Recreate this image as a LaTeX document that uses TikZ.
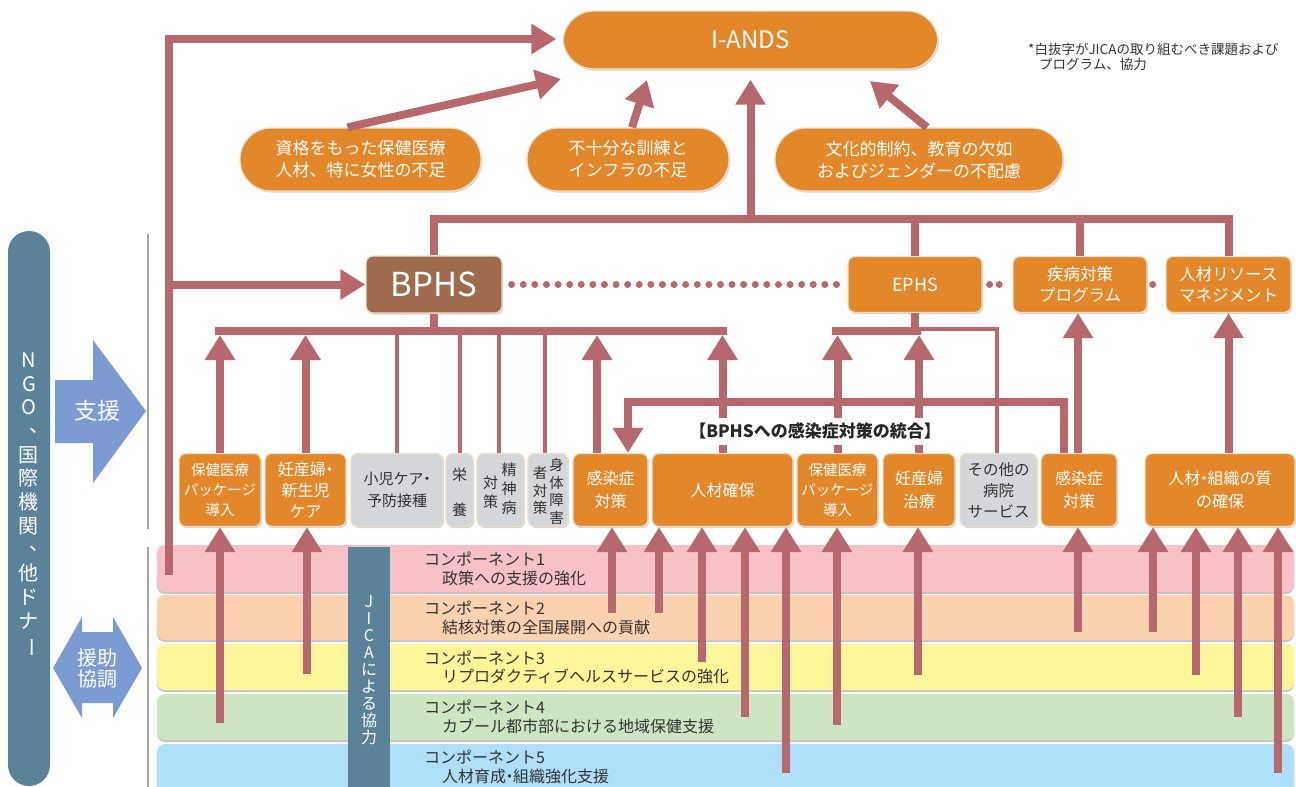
\documentclass[tikz,border=0pt]{standalone}
\usepackage{fontspec}
\usepackage{graphicx}
\setmainfont{Noto Sans CJK JP}
\usetikzlibrary{arrows.meta,calc,shadows}
\definecolor{org}{HTML}{E2882A}
\definecolor{brn}{HTML}{A06B4C}
\definecolor{con}{HTML}{B7686E}
\definecolor{gry}{HTML}{D4D6D9}
\definecolor{stb}{HTML}{5A8399}
\definecolor{lbl}{HTML}{7B9BD2}
\definecolor{txt}{HTML}{333333}
\definecolor{bd}{HTML}{EADFCB}
\definecolor{bpink}{HTML}{F8C0C7}
\definecolor{bpeach}{HTML}{FBD1AE}
\definecolor{byel}{HTML}{FFF59A}
\definecolor{bgrn}{HTML}{CEE5C3}
\definecolor{bblu}{HTML}{AEDFF8}
\newcommand{\nd}{\kern-0.28em・\kern-0.28em}
\newcommand{\vcomma}{\makebox[1em][l]{\hspace*{0.5em}\raisebox{0.3em}{、}}}
\begin{document}
\begin{tikzpicture}[x=1pt,y=-1pt,
  obox/.style={draw=bd, line width=1.3pt, rounded corners=7pt, fill=org, text=white, align=center, inner sep=0pt,
    drop shadow={shadow xshift=1.2pt, shadow yshift=-1.6pt, fill=black!50, opacity=0.35}},
  pill/.style={obox, rounded corners=31pt, minimum height=63pt, font=\fontsize{17}{22}\selectfont},
  rowbox/.style={obox, minimum height=73pt, font=\fontsize{16}{21}\selectfont},
  gbox/.style={rowbox, fill=gry, text=txt},
  topbox/.style={obox, minimum height=56pt, font=\fontsize{16.5}{21}\selectfont},
  conn/.style={draw=con, line width=8pt},
  arr/.style={conn, -{Triangle[width=29pt,length=25pt]}},
  thinc/.style={draw=con, line width=4pt},
  dotc/.style={draw=con, line width=7pt, line cap=round, dash pattern=on 0pt off 11.6pt},
  band/.style={rounded corners=8pt, drop shadow={shadow xshift=0pt, shadow yshift=-2pt, fill=black!45, opacity=0.5}},
  comp/.style={anchor=west, align=left, text=txt, font=\fontsize{16}{18.5}\selectfont, inner sep=0pt},
  vt/.style={align=center, inner sep=0pt},
]
\useasboundingbox (0,0) rectangle (1296,787);

% ---------- component bands ----------
\path[band, fill=bpink]  (157,545) rectangle (1294,592);
\path[band, fill=bpeach] (157,595) rectangle (1294,640);
\path[band, fill=byel]   (157,644) rectangle (1294,690);
\path[band, fill=bgrn]   (157,694) rectangle (1294,740);
\path[band, fill=bblu]   (157,744) rectangle (1294,800);
\node[comp] (c1) at (424,569) {コンポーネント1\\\hspace*{18pt}政策への支援の強化};
\node[comp] (c2) at (424,618) {コンポーネント2\\\hspace*{18pt}結核対策の全国展開への貢献};
\node[comp] (c3) at (424,667.5) {コンポーネント3\\\hspace*{18pt}リプロダクティブヘルスサービスの強化};
\node[comp] (c4) at (424,717) {コンポーネント4\\\hspace*{18pt}カブール都市部における地域保健支援};
\node[comp] (c5) at (424,767) {コンポーネント5\\\hspace*{18pt}人材育成\nd 組織強化支援};

% JICA bar
\fill[stb] (348,547) rectangle (390,790);
\node[vt, text=white, font=\fontsize{16}{17}\selectfont] (jica) at (369,670) {J\\I\\C\\A\\に\\よ\\る\\協\\力};

% ---------- left side ----------
\node[fill=stb, rounded corners=21pt, minimum width=42pt, minimum height=555pt, inner sep=0pt] (ngo) at (29,508.5) {};
\node[vt, text=white, font=\fontsize{20}{23.7}\selectfont] (ngot) at (29,505) {N\\G\\O\\\vcomma\\国\\際\\機\\関\\\vcomma\\他\\ド\\ナ\\\rotatebox[origin=c]{-90}{ー}};
\draw[black!35, line width=1.2pt] (148,234) -- (148,529);
\draw[black!35, line width=1.2pt] (148,547) -- (148,790);
\fill[lbl] (55,380) -- (93,380) -- (93,340) -- (146,411) -- (93,483) -- (93,443) -- (55,443) -- cycle;
\node[text=white, font=\fontsize{23}{23}\selectfont] (shien) at (97,411) {支援};
\fill[lbl] (53,668) -- (82,617) -- (82,632) -- (113,632) -- (113,617) -- (142,668) -- (113,718) -- (113,703) -- (82,703) -- (82,718) -- cycle;
\node[vt, text=white, font=\fontsize{20}{21}\selectfont] (enjo) at (97,668) {援助\\協調};

% ---------- top ----------
\node[pill, minimum width=375pt, minimum height=58pt, font=\fontsize{24}{26}\selectfont] (iands) at (750.5,40) {I-ANDS};
\node[pill, minimum width=241pt] (shikaku) at (360.5,159.5) {資格をもった保健医療\\人材、特に女性の不足};
\node[pill, minimum width=202pt] (fujubun) at (628,159.5) {不十分な訓練と\\インフラの不足};
\node[pill, minimum width=288pt] (bunka) at (919,159.5) {文化的制約、教育の欠如\\およびジェンダーの不配慮};
\node[anchor=west, align=left, text=txt, font=\fontsize{13.5}{15.5}\selectfont, inner sep=0pt] (note) at (1028,57) {*白抜字がJICAの取り組むべき課題および\\\hspace*{11pt}プログラム、協力};

% ---------- programme row ----------
\node[obox, fill=brn, minimum width=136pt, minimum height=57pt, font=\fontsize{33}{33}\selectfont] (bphs) at (434,284.5) {BPHS};
\node[topbox, minimum width=134pt, font=\fontsize{18}{21}\selectfont] (ephs) at (915,284.5) {EPHS};
\node[topbox, minimum width=134pt] (shippei) at (1080,284.5) {疾病対策\\プログラム};
\node[topbox, minimum width=125pt] (jinzai) at (1228.5,284.5) {人材リソース\\マネジメント};

% ---------- box row ----------
\node[rowbox, minimum width=82pt, font=\fontsize{14.5}{20}\selectfont] (b1) at (220,490) {保健医療\\パッケージ\\導入};
\node[rowbox, minimum width=81pt] (b2) at (305.5,490) {妊産婦\nd\\新生児\\ケア};
\node[gbox, minimum width=92pt, font=\fontsize{15}{22}\selectfont] (b3) at (397,490) {小児ケア\nd\\予防接種};
\node[gbox, minimum width=27pt] (b4) at (459.5,490) {};
\node[gbox, minimum width=47pt] (b5) at (500.5,490) {};
\node[gbox, minimum width=40pt] (b6) at (548,490) {};
\node[rowbox, minimum width=75pt, font=\fontsize{16}{23}\selectfont] (b7) at (610.5,490) {感染症\\対策};
\node[rowbox, minimum width=141pt] (b8) at (722.5,490) {人材確保};
\node[rowbox, minimum width=81pt, font=\fontsize{14.5}{20}\selectfont] (b9) at (837.5,490) {保健医療\\パッケージ\\導入};
\node[rowbox, minimum width=72pt, font=\fontsize{16}{23}\selectfont] (b10) at (919,490) {妊産婦\\治療};
\node[gbox, minimum width=77pt, font=\fontsize{15.5}{21}\selectfont] (b11) at (998.5,490) {その他の\\病院\\サービス};
\node[rowbox, minimum width=76pt, font=\fontsize{16}{23}\selectfont] (b12) at (1079,490) {感染症\\対策};
\node[rowbox, minimum width=150pt, font=\fontsize{16}{23}\selectfont] (b13) at (1220,490) {人材\nd 組織の質\\の確保};
% vertical texts in grey boxes
\node[vt, text=txt, font=\fontsize{15}{35}\selectfont] (t4) at ($(b4.center)+(0,2.5)$) {栄\\養};
\node[vt, text=txt, font=\fontsize{15}{19}\selectfont] (t5a) at ($(b5.center)+(8.5,-1)$) {精\\神\\病};
\node[vt, text=txt, font=\fontsize{15}{19}\selectfont] (t5b) at ($(b5.center)+(-10,2)$) {対\\策};
\node[vt, text=txt, font=\fontsize{14.5}{17.7}\selectfont] (t6a) at ($(b6.center)+(8.5,1.5)$) {身\\体\\障\\害};
\node[vt, text=txt, font=\fontsize{14.5}{17.7}\selectfont] (t6b) at ($(b6.center)+(-8,0.5)$) {者\\対\\策};

% ---------- helper coordinates ----------
\coordinate (tb) at (0,219);   % top bar
\coordinate (lb) at (0,331);   % lower bars
\coordinate (lbb) at (0,335);  % lower bar bottom edge
\coordinate (br) at (0,402);   % integration bracket
\coordinate (ls) at (169,575);
\coordinate (lj) at (169,284.5);
\coordinate (ia) at ($(iands.west)+(-6,-1)$);
\coordinate (lbL) at (215,331);
\coordinate (lbR) at (727,331);
\coordinate (leL) at (832,331);
\coordinate (t1) at (561,79);
\coordinate (t2) at (647,80);
\coordinate (t3) at (870,81);

% ---------- connectors: top ----------
\draw[arr] (ls) |- (ia);
\draw[arr] (lj) -- (bphs.west);
\draw[arr] ($(shikaku.north)+(-13,0)$) -- (t1);
\draw[arr] ($(fujubun.north)+(4,0)$) -- (t2);
\draw[arr] ($(bunka.north)+(8,0)$) -- (t3);
\draw[conn] (bphs.north) |- (tb -| jinzai.north) -- (jinzai.north);
\draw[conn] (tb -| ephs.north) -- (ephs.north);
\draw[conn] (tb -| shippei.north) -- (shippei.north);
\draw[arr] (tb -| iands.south) -- ($(iands.south)+(0,10)$);

% dotted links
\draw[dotc] ($(bphs.east)+(9,0)$) -- ($(ephs.west)+(-6,0)$);
\draw[dotc, dash pattern=on 0pt off 9.5pt] ($(ephs.east)+(7,0)$) -- ($(shippei.west)+(-5,0)$);
\draw[dotc, dash pattern=on 0pt off 9pt] ($(shippei.east)+(5,0)$) -- ($(jinzai.west)+(-5,0)$);

% ---------- BPHS lower bar ----------
\draw[conn] (bphs.south) -- (bphs.south |- lb);
\draw[conn] (lbL) -- (lbR);
\draw[arr] (b1.north) -- (b1.north |- lbb);
\draw[arr] (b2.north) -- (b2.north |- lbb);
\draw[arr] ($(b7.north)+(-13.5,0)$) -- ($(b7.north |- lbb)+(-13.5,0)$);
\draw[arr] (b8.north) -- (b8.north |- lbb);
\draw[thinc] (b3.north) -- (b3.north |- lb);
\draw[thinc] (b4.north) -- (b4.north |- lb);
\draw[thinc] ($(b5.north)+(-1.5,0)$) -- ($(b5.north |- lb)+(-1.5,0)$);
\draw[thinc] ($(b6.north)+(-3,0)$) -- ($(b6.north |- lb)+(-3,0)$);

% ---------- EPHS lower bar ----------
\draw[conn] (ephs.south) -- (ephs.south |- lb);
\draw[thinc] ($(b11.north)+(-1.5,0)$) |- ($(ephs.south |- lb)+(0,-2)$);
\draw[conn] (leL) -- ($(ephs.south |- lb)+(6,0)$);
\draw[arr] (b9.north) -- (b9.north |- lbb);
\draw[arr] (b10.north) -- (b10.north |- lbb);

% ---------- integration bracket ----------
\draw[arr] ($(b12.north)+(-15,0)$) |- ($(b7.north |- br)+(17.5,0)$) -- ($(b7.north)+(17.5,0)$);
\draw[arr] ($(b12.north)+(-1,0)$) -- ($(b12.north |- shippei.south)+(-1,0)$);
\draw[arr] (jinzai.south |- b13.north) -- (jinzai.south);
\node[fill=white, inner xsep=3pt, minimum height=27pt, text=black!85, font=\bfseries\fontsize{17}{18}\selectfont] (lab) at (815,431) {【BPHSへの感染症対策の統合】};

% ---------- arrows from components ----------
\coordinate (s1) at (220,723);
\coordinate (s2) at (307,674);
\coordinate (s3) at (612,613);
\coordinate (s4) at (659,613);
\coordinate (s5) at (702,662);
\coordinate (s6) at (745,717);
\coordinate (s7) at (786,773);
\coordinate (s8) at (837,725);
\coordinate (s9) at (918,675);
\coordinate (s10) at (1078,632);
\coordinate (s11) at (1153,632);
\coordinate (s12) at (1196,675);
\coordinate (s13) at (1238,717);
\coordinate (s14) at (1278,773);
\draw[arr] (s1) -- (s1 |- b1.south);
\draw[arr] (s2) -- (s2 |- b2.south);
\draw[arr] (s3) -- (s3 |- b7.south);
\draw[arr] (s4) -- (s4 |- b8.south);
\draw[arr] (s5) -- (s5 |- b8.south);
\draw[arr] (s6) -- (s6 |- b8.south);
\draw[arr] (s7) -- (s7 |- b8.south);
\draw[arr] (s8) -- (s8 |- b9.south);
\draw[arr] (s9) -- (s9 |- b10.south);
\draw[arr] (s10) -- (s10 |- b12.south);
\draw[arr] (s11) -- (s11 |- b13.south);
\draw[arr] (s12) -- (s12 |- b13.south);
\draw[arr] (s13) -- (s13 |- b13.south);
\draw[arr] (s14) -- (s14 |- b13.south);
\end{tikzpicture}
\end{document}
